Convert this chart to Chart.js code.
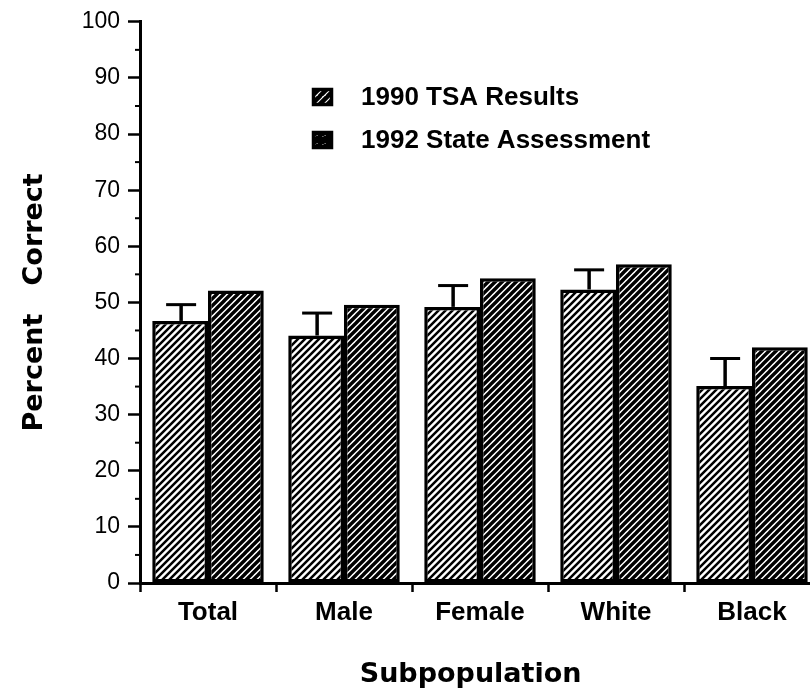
<!DOCTYPE html>
<html>
<head>
<meta charset="utf-8">
<script src="https://cdn.jsdelivr.net/npm/chart.js@4.4.1/dist/chart.umd.min.js"></script>
<style>
  html, body { margin: 0; padding: 0; background: #fff; overflow: hidden; }
  #wrap { width: 835px; height: 699px; }
  canvas { display: block; }
</style>
</head>
<body>
<div id="wrap"><canvas id="c" width="835" height="699"></canvas></div>
<script>
// ---- data ----
const categories = ['Total', 'Male', 'Female', 'White', 'Black'];
const seriesNames = ['1990 TSA Results', '1992 State Assessment'];
const tsa1990 = [46.7, 44.1, 49.2, 52.3, 35.1];
const tsa1990Err = [2.9, 4.0, 3.8, 3.5, 4.9];
const state1992 = [52.1, 49.6, 54.3, 56.8, 42.0];
const yTicks = [0, 10, 20, 30, 40, 50, 60, 70, 80, 90, 100];
const yMinorTicks = [5, 15, 25, 35, 45, 55, 65, 75, 85, 95];
const yTitle = 'Percent   Correct';
const xTitle = 'Subpopulation';

// ---- hatch patterns ----
function hatch(period, lw) {
  const c = document.createElement('canvas');
  c.width = period; c.height = period;
  const g = c.getContext('2d');
  g.fillStyle = '#fff'; g.fillRect(0, 0, period, period);
  g.strokeStyle = '#000'; g.lineWidth = lw;
  g.beginPath();
  for (const k of [-1, 0, 1]) {
    g.moveTo(k * period - 1, period + 1);
    g.lineTo(k * period + period + 1, -1);
  }
  g.stroke();
  return document.getElementById('c').getContext('2d').createPattern(c, 'repeat');
}
const pat1990 = hatch(7, 2.5);
const pat1992 = hatch(7, 3.4);
const legPat1990 = hatch(8, 4.5);
const legPat1992 = hatch(8, 6);

const errorBars = {
  id: 'errorBars',
  afterDatasetsDraw(chart) {
    const ctx = chart.ctx;
    const meta = chart.getDatasetMeta(0);
    const ys = chart.scales.y;
    ctx.save();
    ctx.strokeStyle = '#000';
    meta.data.forEach((bar, i) => {
      const yTop = ys.getPixelForValue(tsa1990[i] + tsa1990Err[i]);
      ctx.lineWidth = 3.5;
      ctx.beginPath();
      ctx.moveTo(bar.x + 1, bar.y);
      ctx.lineTo(bar.x + 1, yTop);
      ctx.stroke();
      ctx.lineWidth = 3;
      ctx.beginPath();
      ctx.moveTo(bar.x - 14, yTop);
      ctx.lineTo(bar.x + 16, yTop);
      ctx.stroke();
    });
    ctx.restore();
  }
};

const extras = {
  id: 'extras',
  afterDraw(chart) {
    const ctx = chart.ctx;
    const ys = chart.scales.y;
    const left = chart.chartArea.left;
    ctx.save();
    // minor ticks
    ctx.strokeStyle = '#000';
    ctx.lineWidth = 2;
    yMinorTicks.forEach(v => {
      const y = ys.getPixelForValue(v);
      ctx.beginPath();
      ctx.moveTo(left - 5, y);
      ctx.lineTo(left + 2, y);
      ctx.stroke();
    });
    // legend
    const pats = [legPat1990, legPat1992];
    const rows = [97, 140];
    ctx.font = 'bold 26px "Liberation Sans", Arial, sans-serif';
    ctx.textBaseline = 'middle';
    ctx.textAlign = 'left';
    seriesNames.forEach((name, i) => {
      const y = rows[i];
      ctx.fillStyle = pats[i];
      ctx.fillRect(312, y - 9, 21, 18);
      ctx.lineWidth = 3.5;
      ctx.strokeStyle = '#000';
      ctx.strokeRect(313.5, y - 7.5, 18, 15);
      ctx.fillStyle = '#000';
      ctx.fillText(name, 361, y + 1);
    });
    ctx.restore();
  }
};

new Chart(document.getElementById('c'), {
  type: 'bar',
  data: {
    labels: categories,
    datasets: [
      { label: seriesNames[0], data: tsa1990, backgroundColor: pat1990, borderColor: '#000', borderWidth: 3.5, borderSkipped: false,
        categoryPercentage: 0.82, barPercentage: 1.0 },
      { label: seriesNames[1], data: state1992, backgroundColor: pat1992, borderColor: '#000', borderWidth: 3.5, borderSkipped: false,
        categoryPercentage: 0.82, barPercentage: 1.0 }
    ]
  },
  options: {
    responsive: false,
    animation: false,
    layout: { padding: { top: 16, right: 15, bottom: 0, left: 0 } },
    plugins: { legend: { display: false }, tooltip: { enabled: false } },
    scales: {
      x: {
        afterFit: s => { s.height = 116; },
        grid: { drawOnChartArea: false, offset: true, tickLength: 9, tickWidth: 2.5, tickColor: '#000' },
        border: { display: true, color: '#000', width: 3 },
        ticks: { color: '#000', padding: 5, font: { family: '"Liberation Sans", Arial, sans-serif', size: 26, weight: 'bold' } },
        title: { display: true, text: xTitle + '  ', color: '#000', padding: { top: 10, bottom: 8 },
                 font: { family: '"DejaVu Sans", sans-serif', size: 27, weight: 'bold' } }
      },
      y: {
        min: 0, max: 100,
        afterFit: s => { s.width = 140; },
        afterBuildTicks: s => { s.ticks = yTicks.map(v => ({ value: v })); },
        grid: { drawOnChartArea: false, tickLength: 12, tickWidth: 2.5, tickColor: '#000' },
        border: { display: true, color: '#000', width: 3 },
        ticks: { color: '#000', padding: 8, font: { family: '"Liberation Sans", Arial, sans-serif', size: 23 } },
        title: { display: true, text: yTitle, color: '#000', padding: { top: 19, bottom: 0 },
                 font: { family: '"DejaVu Sans", sans-serif', size: 27, weight: 'bold' } }
      }
    }
  },
  plugins: [errorBars, extras]
});
</script>
</body>
</html>
